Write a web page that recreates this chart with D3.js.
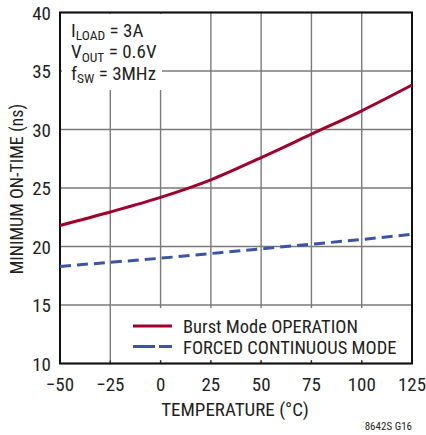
<!DOCTYPE html>
<html>
<head>
<meta charset="utf-8">
<script src="https://cdn.jsdelivr.net/npm/d3@7"></script>
<style>
  body { margin: 0; background: #fff; }
  svg text { font-family: "Liberation Sans Narrow", "Roboto Condensed", "Liberation Sans", sans-serif; fill: #231f20; }
</style>
</head>
<body>
<svg id="chart" width="426" height="435"></svg>
<script>
const temps = [-50, -25, 0, 25, 50, 75, 100, 125];
const burstMode = [21.8, 22.95, 24.2, 25.7, 27.6, 29.6, 31.6, 33.8];
const forcedContinuous = [18.3, 18.65, 19.0, 19.4, 19.8, 20.2, 20.6, 21.05];
const xTicks = [-50, -25, 0, 25, 50, 75, 100, 125];
const yTicks = [10, 15, 20, 25, 30, 35, 40];
const seriesNames = ['Burst Mode OPERATION', 'FORCED CONTINUOUS MODE'];

const svg = d3.select('#chart');
const plotLeft = 60, plotRight = 412, plotTop = 12.5, plotBottom = 363.5;

const x = d3.scaleLinear().domain([-50, 125]).range([plotLeft, plotRight]);
const y = d3.scaleLinear().domain([10, 40]).range([plotBottom, plotTop]);

// grid
svg.append('g')
  .selectAll('line')
  .data(xTicks)
  .enter().append('line')
  .attr('x1', d => x(d)).attr('x2', d => x(d))
  .attr('y1', plotTop).attr('y2', plotBottom)
  .attr('stroke', '#7a7a7a').attr('stroke-width', 1.4);

svg.append('g')
  .selectAll('line')
  .data(yTicks)
  .enter().append('line')
  .attr('x1', plotLeft).attr('x2', plotRight)
  .attr('y1', d => y(d)).attr('y2', d => y(d))
  .attr('stroke', '#7a7a7a').attr('stroke-width', 1.4);

// white boxes behind annotation and legend
svg.append('rect').attr('x', 62).attr('y', 14).attr('width', 100).attr('height', 76).attr('fill', '#fff');
svg.append('rect').attr('x', 116).attr('y', 308).attr('width', 294).attr('height', 52).attr('fill', '#fff');

// small tick stubs on bottom
svg.append('g')
  .selectAll('line')
  .data(xTicks)
  .enter().append('line')
  .attr('x1', d => x(d)).attr('x2', d => x(d))
  .attr('y1', plotBottom - 3).attr('y2', plotBottom)
  .attr('stroke', '#222').attr('stroke-width', 1.2);

// frame
svg.append('rect')
  .attr('x', plotLeft).attr('y', plotTop)
  .attr('width', plotRight - plotLeft).attr('height', plotBottom - plotTop)
  .attr('fill', 'none').attr('stroke', '#111').attr('stroke-width', 2);

// curves
const line = d3.line()
  .x((d, i) => x(temps[i]))
  .y(d => y(d))
  .curve(d3.curveMonotoneX);

svg.append('path')
  .attr('d', line(forcedContinuous))
  .attr('fill', 'none').attr('stroke', '#3a55a8')
  .attr('stroke-width', 3).attr('stroke-dasharray', '11,6');

svg.append('path')
  .attr('d', line(burstMode))
  .attr('fill', 'none').attr('stroke', '#a0002b')
  .attr('stroke-width', 3);

// tick labels
svg.append('g')
  .selectAll('text')
  .data(yTicks)
  .enter().append('text')
  .attr('x', 51).attr('y', d => y(d) + 7)
  .attr('text-anchor', 'end')
  .attr('font-size', 19)
  .text(d => d);

svg.append('g')
  .selectAll('text')
  .data(xTicks)
  .enter().append('text')
  .attr('x', d => x(d)).attr('y', 391)
  .attr('text-anchor', 'middle')
  .attr('font-size', 19)
  .text(d => d < 0 ? '\u2212' + Math.abs(d) : d);

// axis titles
svg.append('text')
  .attr('x', 235).attr('y', 416)
  .attr('text-anchor', 'middle')
  .attr('font-size', 19)
  .text('TEMPERATURE (°C)');

svg.append('text')
  .attr('transform', 'translate(23, 189) rotate(-90)')
  .attr('text-anchor', 'middle')
  .attr('font-size', 18)
  .text('MINIMUM ON-TIME (ns)');

// annotation
const notes = [['I', 'LOAD', ' = 3A'], ['V', 'OUT', ' = 0.6V'], ['f', 'SW', ' = 3MHz']];
notes.forEach((n, i) => {
  const t = svg.append('text').attr('x', 71).attr('y', 36.5 + i * 21.5).attr('font-size', 19);
  t.append('tspan').text(n[0]);
  t.append('tspan').attr('dy', 3.5).attr('font-size', 13.5).text(n[1]);
  t.append('tspan').attr('dy', -3.5).text(n[2]);
});

// legend
const legendColors = ['#a0002b', '#3a55a8'];
seriesNames.forEach((name, i) => {
  const ly = 326 + i * 20.5;
  svg.append('line')
    .attr('x1', 133).attr('x2', 172).attr('y1', ly).attr('y2', ly)
    .attr('stroke', legendColors[i]).attr('stroke-width', 3)
    .attr('stroke-dasharray', i === 1 ? '22,4' : null);
  svg.append('text')
    .attr('x', 183).attr('y', ly + 7)
    .attr('font-size', 18.5)
    .text(name);
});

svg.append('text')
  .attr('x', 412).attr('y', 430)
  .attr('text-anchor', 'end')
  .attr('font-size', 11)
  .text('8642S G16');
</script>
</body>
</html>
